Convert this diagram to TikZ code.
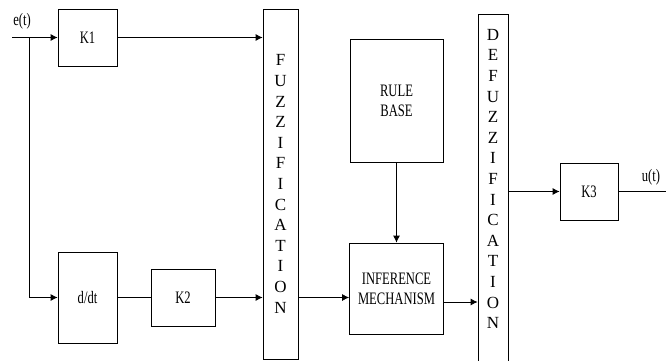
\documentclass[tikz,border=0pt]{standalone}
\usepackage{fontspec}
\setmainfont{Liberation Serif}[FakeStretch=0.72]
\newfontfamily\colfont{Liberation Serif}
\usetikzlibrary{arrows.meta,positioning}

\begin{document}
\begin{tikzpicture}[x=1pt,y=-1pt,on grid,line width=0.8pt,>={Latex[length=7pt,width=7pt]},
    font=\fontsize{17.5}{20}\selectfont,
    block/.style={draw,inner sep=0pt,align=center},
    column/.style={inner sep=0pt,align=center,minimum width=#1,
        font=\colfont\fontsize{17}{20.6}\selectfont}]
    \useasboundingbox (0,0) rectangle (666,361);
    \clip (0,0) rectangle (666,361);
    \node[block,minimum width=59pt,minimum height=57pt] (k1) at (87.5,37.5) {K1};
    \node[block,minimum width=59pt,minimum height=91pt] (ddt) [below=260pt of k1] {d/dt};
    \node[block,minimum width=64pt,minimum height=57pt] (k2) [right=95.5pt of ddt] {K2};
    \node[block,column=35pt,minimum height=350pt] (fuzz) at (280.5,184)
        {F\\U\\Z\\Z\\I\\F\\I\\C\\A\\T\\I\\O\\N};
    \node[block,minimum width=93pt,minimum height=123pt] (rule) at (396.5,100.5) {RULE\\BASE};
    \node[block,minimum width=94pt,minimum height=91pt] (infer) [below=188pt of rule] {INFERENCE\\MECHANISM};
    \node[column=30pt] (defuzz) at (493,179)
        {D\\E\\F\\U\\Z\\Z\\I\\F\\I\\C\\A\\T\\I\\O\\N};
    \draw (478,14) rectangle (508,380);
    \node[block,minimum width=58pt,minimum height=57pt] (k3) at (589,191.5) {K3};
    \node (et) at (22,21) {e(t)};
    \node (ut) at (651,177) {u(t)};
    \coordinate (in) at (12,37.5);
    \coordinate (split) at (29,37.5);
    \coordinate (out) at (673,191.5);
    % connectors
    \draw[->] (in) -- (k1);
    \draw[->] (split) |- (ddt);
    \draw[->] (k1) -- (k1 -| fuzz.west);
    \draw (ddt) -- (k2);
    \draw[->] (k2) -- (k2 -| fuzz.west);
    \draw[->] (ddt -| fuzz.east) -- (ddt -| infer.west);
    \draw[->] (rule) -- (infer);
    \draw[->] ([yshift=-13.5pt]infer.east) -- ([yshift=-13.5pt]infer.east -| defuzz.west);
    \draw[->] (k3 -| defuzz.east) -- (k3);
    \draw[->] (k3) -- (out);
\end{tikzpicture}
\end{document}
